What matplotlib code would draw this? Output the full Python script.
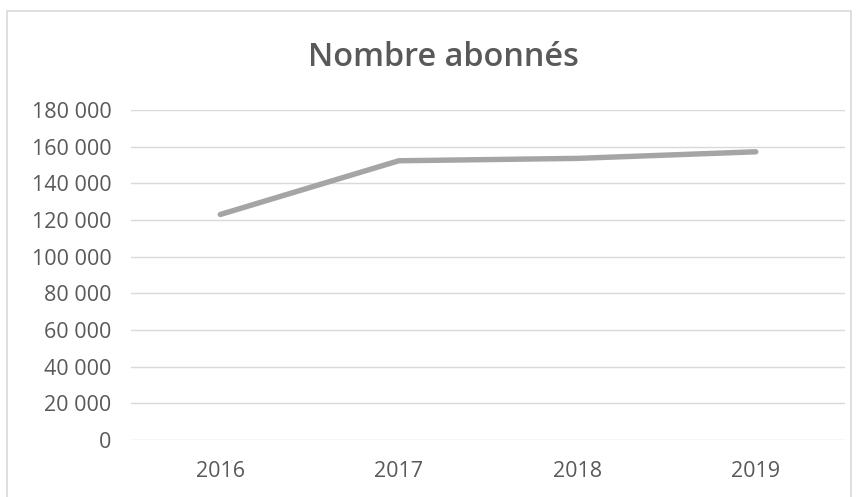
import matplotlib
matplotlib.use("Agg")
import matplotlib.pyplot as plt
from matplotlib.ticker import FuncFormatter, MultipleLocator
from matplotlib.patches import Rectangle

years = ["2016", "2017", "2018", "2019"]
abonnes = [123000, 152300, 153600, 157200]

plt.rcParams['font.family'] = ['Open Sans', 'DejaVu Sans']

fig = plt.figure(figsize=(8.57, 4.97), dpi=100)
ax = fig.add_axes([0.1529, 0.1147, 0.8331, 0.664])

# chart border like Excel
fig.patches.append(Rectangle((7 / 857, -0.05), 844 / 857, 1.05 - 11 / 497,
                             transform=fig.transFigure, fill=False,
                             edgecolor='#D9D9D9', linewidth=1.2))

x = range(len(years))
ax.plot(x, abonnes, color='#A5A5A5', linewidth=3.9, solid_capstyle='round',
        solid_joinstyle='round', zorder=3)

ax.set_xlim(-0.5, len(years) - 0.5)
ax.set_ylim(0, 180000)
ax.yaxis.set_major_locator(MultipleLocator(20000))
ax.yaxis.set_major_formatter(FuncFormatter(lambda v, p: f"{int(v):,}".replace(",", " ")))
ax.set_xticks(list(x))
ax.set_xticklabels(years)

ax.grid(axis='y', color='#D9D9D9', linewidth=1.0, zorder=0)
ax.set_axisbelow(True)
for s in ax.spines.values():
    s.set_visible(False)
ax.tick_params(axis='both', length=0, colors='#595959', labelsize=15.5)
ax.tick_params(axis='y', pad=14)
ax.tick_params(axis='x', pad=15)

fig.text(0.517, 0.885, "Nombre abonnés", ha='center', va='center',
         fontsize=23.3, fontweight='semibold', color='#595959')

fig.savefig("out.png", dpi=100)
